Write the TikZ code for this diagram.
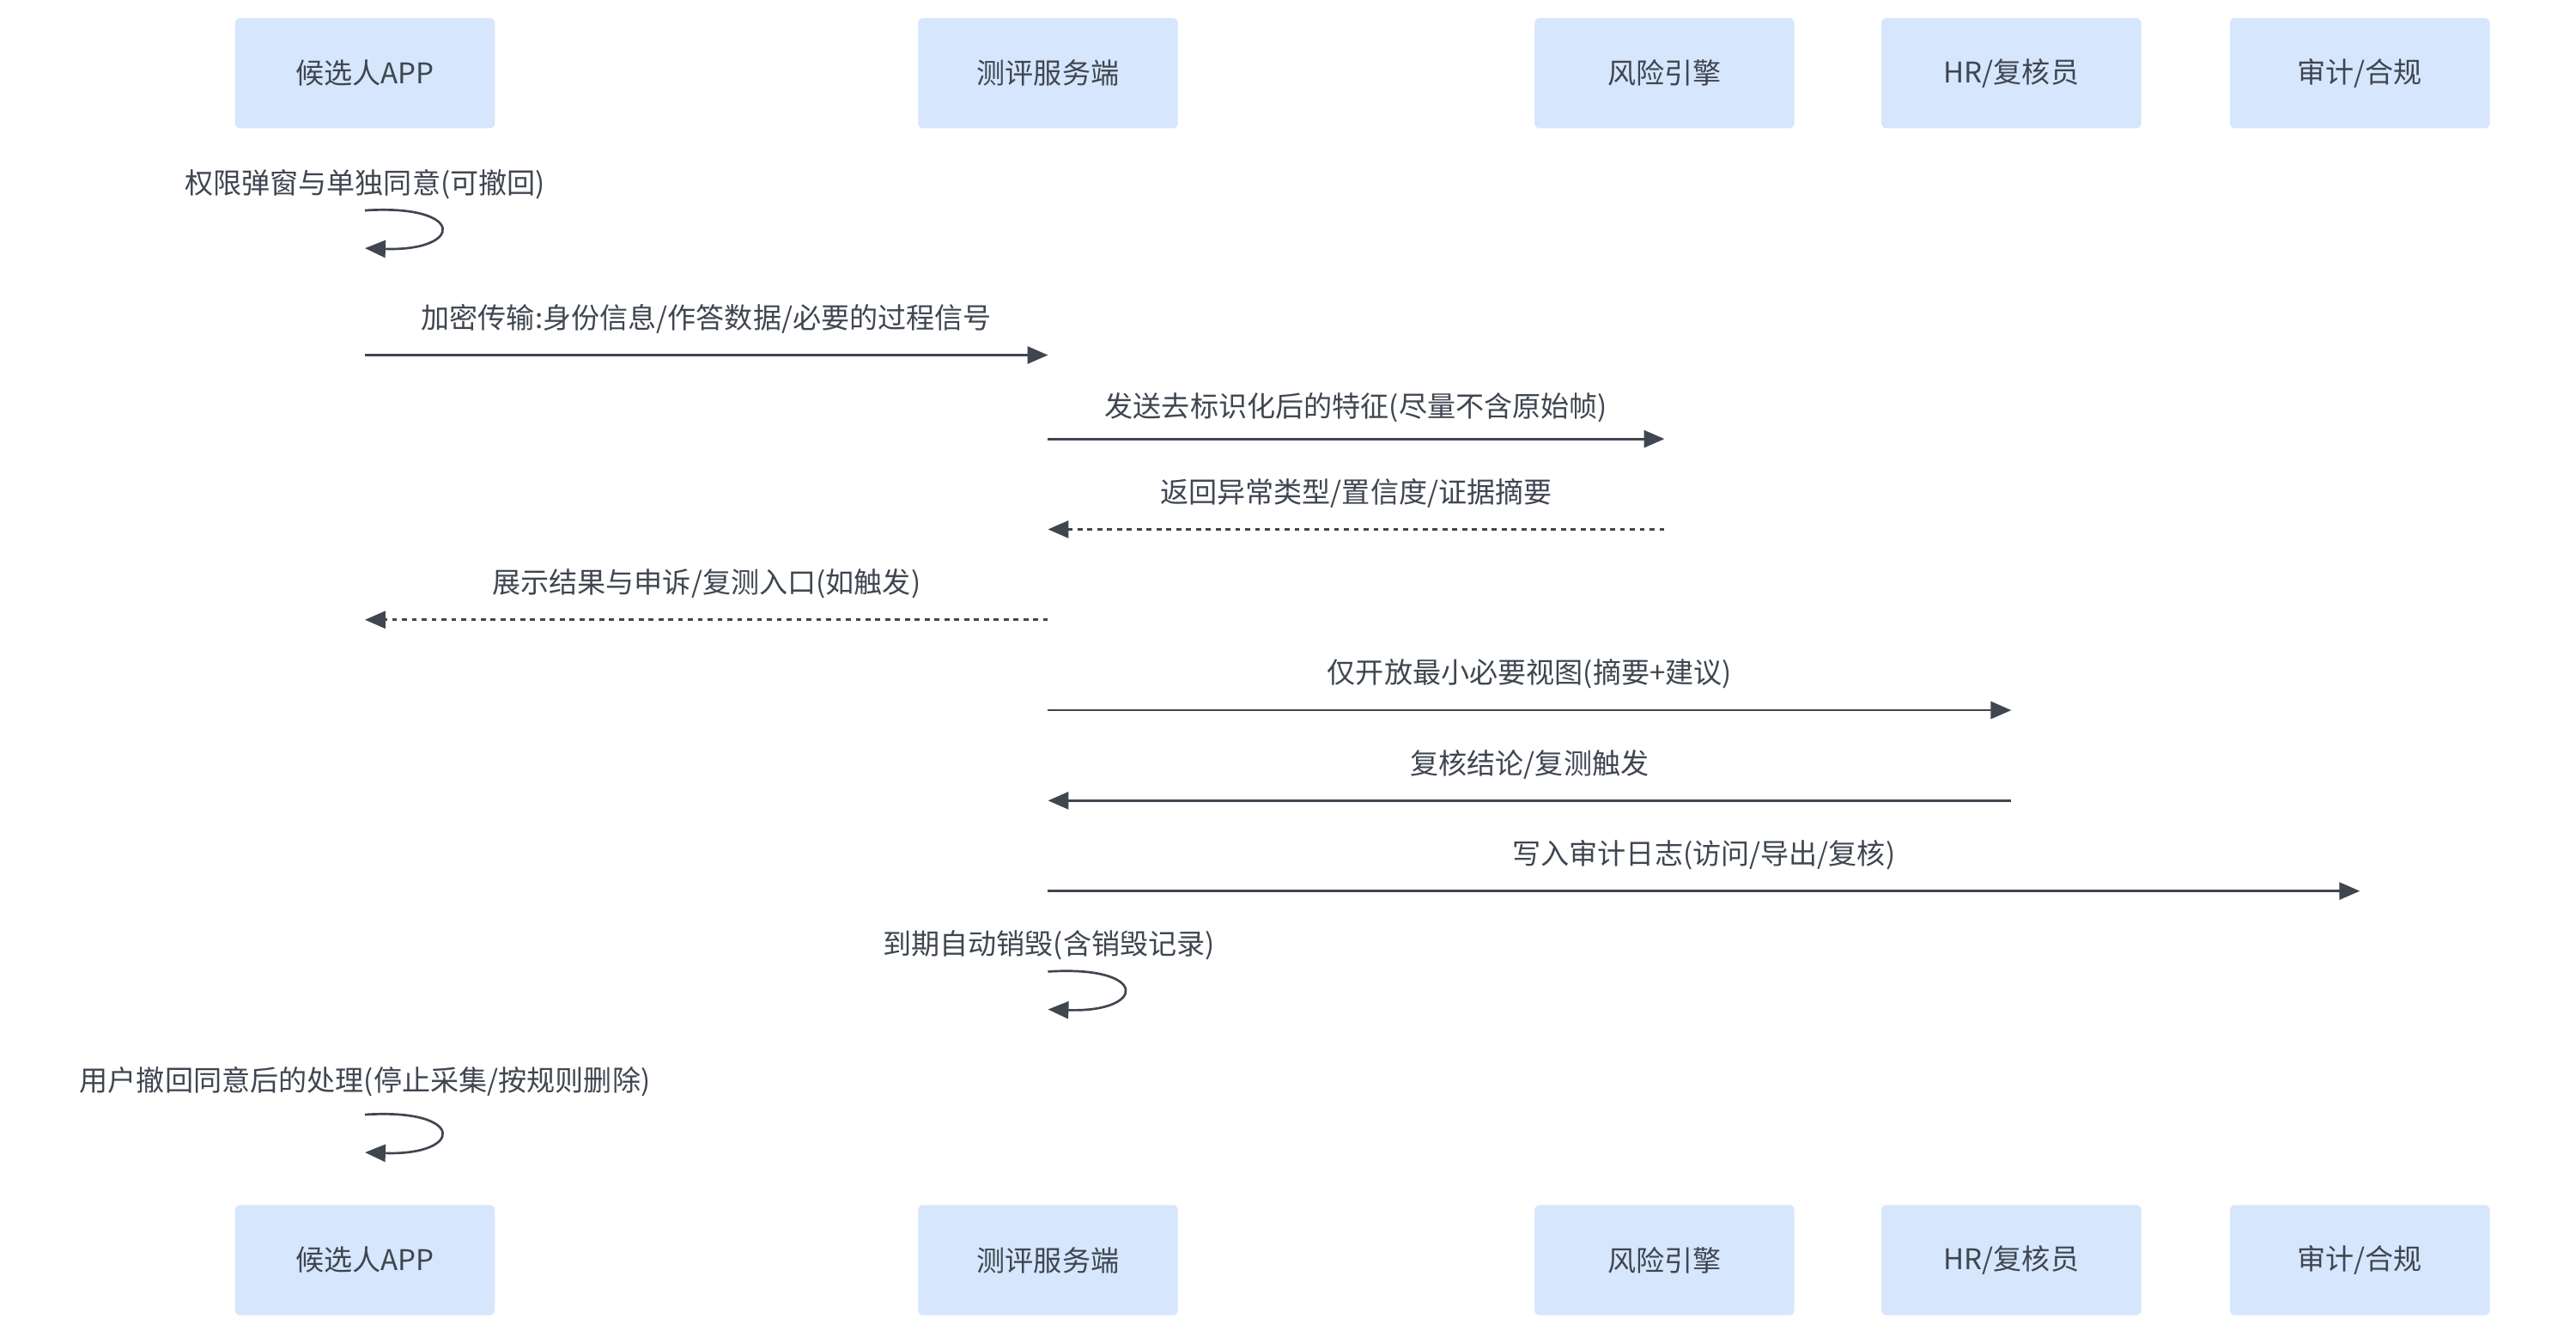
\documentclass[tikz,border=0pt]{standalone}
\usepackage{fontspec}
\setmainfont{Noto Sans CJK SC}
\usetikzlibrary{arrows.meta}
\definecolor{actorfill}{HTML}{D6E6FC}
\definecolor{inkgray}{HTML}{3F4650}

\begin{document}
\begin{tikzpicture}[x=1pt,y=-1pt,
    font=\fontsize{17.3}{20}\selectfont, text=inkgray,
    actor/.style={fill=actorfill, rounded corners=3pt, minimum width=158pt, minimum height=67pt, inner sep=0pt},
    msg/.style={draw=inkgray, line width=1.4pt, -{Triangle[length=12.5pt,width=10.5pt]}},
    reply/.style={msg, dash pattern=on 3pt off 3pt},
    lbl/.style={midway, yshift=22pt}
  ]
  \useasboundingbox (0,0) rectangle (1567,813);
  % participants, top and bottom
  \foreach \n/\x/\t in {app/222/候选人APP, srv/637.5/测评服务端, risk/1012.5/风险引擎, hr/1223.5/{HR/复核员}, audit/1435.5/{审计/合规}}{
    \node[actor] (\n) at (\x,44.5) {\t};
    \node[actor] (\n-b) at (\x,766.5) {\t};
  }
  % message rows
  \coordinate (r1s) at (0,128); \coordinate (r1e) at (0,151);
  \coordinate (r2) at (0,216);
  \coordinate (r3) at (0,267);
  \coordinate (r4) at (0,322);
  \coordinate (r5) at (0,377);
  \coordinate (r6) at (0,432);
  \coordinate (r7) at (0,487);
  \coordinate (r8) at (0,542);
  \coordinate (r9s) at (0,591); \coordinate (r9e) at (0,614);
  \coordinate (r10s) at (0,678); \coordinate (r10e) at (0,701);

  \node (l1) at (222,112) {权限弹窗与单独同意(可撤回)};
  \draw[msg] (app |- r1s) .. controls +(62,-4) and +(60,2) .. (app |- r1e);

  \draw[msg] (app |- r2) -- (srv |- r2) node[lbl] {加密传输:身份信息/作答数据/必要的过程信号};
  \draw[msg] (srv |- r3) -- (risk |- r3) node[lbl, yshift=-3pt] {发送去标识化后的特征(尽量不含原始帧)};
  \draw[reply] (risk |- r4) -- (srv |- r4) node[lbl] {返回异常类型/置信度/证据摘要};
  \draw[reply] (srv |- r5) -- (app |- r5) node[lbl] {展示结果与申诉/复测入口(如触发)};
  \draw[msg] (srv |- r6) -- (hr |- r6) node[lbl] {仅开放最小必要视图(摘要+建议)};
  \draw[msg] (hr |- r7) -- (srv |- r7) node[lbl] {复核结论/复测触发};
  \draw[msg] (srv |- r8) -- (audit |- r8) node[lbl] {写入审计日志(访问/导出/复核)};

  \node (l9) at (638,575) {到期自动销毁(含销毁记录)};
  \draw[msg] (srv |- r9s) .. controls +(62,-4) and +(60,2) .. (srv |- r9e);

  \node (l10) at (222,658) {用户撤回同意后的处理(停止采集/按规则删除)};
  \draw[msg] (app |- r10s) .. controls +(62,-4) and +(60,2) .. (app |- r10e);
\end{tikzpicture}
\end{document}
